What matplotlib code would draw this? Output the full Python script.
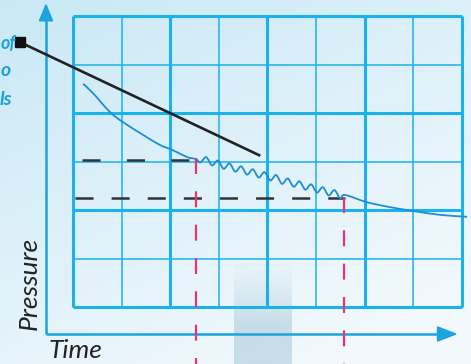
import numpy as np
import matplotlib
matplotlib.use("Agg")
import matplotlib.pyplot as plt
from matplotlib.path import Path
from matplotlib.patches import PathPatch, Polygon

plt.rcParams['lines.scale_dashes'] = False
plt.rcParams['font.family'] = ['Lato', 'DejaVu Sans']

# grid units: one cell of the chart grid = 1 unit (time across, pressure up)
n_cols, n_rows = 8, 6

# black solid line with the square marker
black_x = [-1.09, 3.83]
black_y = [5.46, 3.13]

# blue pressure curve: falling part, wavy part, tail
fall_x = [0.21, 0.41, 0.76, 1.03, 1.44, 1.79, 2.04, 2.35, 2.53]
fall_y = [4.60, 4.41, 4.02, 3.81, 3.55, 3.34, 3.24, 3.09, 3.05]
wave_x = [2.62, 2.74, 2.86, 2.98, 3.10, 3.22, 3.34, 3.46, 3.58, 3.70, 3.82, 3.94,
          4.06, 4.18, 4.30, 4.42, 4.54, 4.66, 4.78, 4.90, 5.02, 5.14, 5.26, 5.38, 5.50]
wave_y = [2.98, 3.09, 2.92, 3.02, 2.85, 2.96, 2.79, 2.90, 2.73, 2.84, 2.67, 2.78,
          2.61, 2.72, 2.54, 2.65, 2.48, 2.59, 2.42, 2.53, 2.36, 2.47, 2.30, 2.41, 2.24]
tail_x = [5.60, 6.05, 6.52, 7.00, 7.55, 8.11]
tail_y = [2.31, 2.16, 2.06, 1.98, 1.90, 1.86]

# dashed levels and time markers
level1 = (3.04, 0.19, 2.51)   # y, x start, x end
level2 = (2.25, 0.04, 5.60)
mark1 = (2.53, 3.07)          # x, y top
mark2 = (5.58, 2.27)

# shaded band
band_x = (3.31, 4.49)
band_top = 1.0

grid_col = '#1ab2ea'
axis_col = '#1aa3df'
curve_col = '#1d8fd4'
pink = '#e8356f'

px_x = 48.6
px_y = 48.5
x0, x1 = -73 / px_x, (471 - 73) / px_x
y0, y1 = (307 - 364) / px_y, 307 / px_y

fig = plt.figure(figsize=(4.71, 3.64), dpi=100)
ax = fig.add_axes([0, 0, 1, 1])

# background gradient: blue at top-left, near white towards bottom-right
gx, gy = np.meshgrid(np.linspace(0, 1, 200), np.linspace(0, 1, 200))
t = np.clip(0.45 * gx + 0.7 * gy, 0, 1)
c_a = np.array([0.79, 0.91, 0.965])
c_b = np.array([0.95, 0.975, 0.99])
bg = c_a[None, None, :] * (1 - t[..., None]) + c_b[None, None, :] * t[..., None]
ax.imshow(bg, extent=[x0, x1, y0, y1], aspect='auto', zorder=0, origin='upper')

# grey band fading at top
ramp = np.clip(np.linspace(0, 1, 100) * 1.6, 0, 1) ** 1.3
band = np.zeros((100, 2, 4))
band[..., 0], band[..., 1], band[..., 2] = 0.68, 0.80, 0.86
band[..., 3] = 0.6 * ramp[:, None]
ax.imshow(band, extent=[band_x[0], band_x[1], y0, band_top], aspect='auto',
          origin='upper', zorder=1)
ax.set_xlim(x0, x1)
ax.set_ylim(y0, y1)
ax.axis('off')

# grid
for i in range(n_cols + 1):
    ax.plot([i, i], [0, n_rows], color=grid_col, lw=2.2 if i % 2 == 0 else 1.1,
            zorder=2, solid_capstyle='butt')
for j in range(n_rows + 1):
    ax.plot([0, n_cols], [j, j], color=grid_col, lw=2.2 if j % 2 == 0 else 1.1,
            zorder=2, solid_capstyle='butt')

# axes with arrows
ax_o = (-0.556, -0.557)
ax.plot([ax_o[0], ax_o[0]], [ax_o[1], 5.95], color=axis_col, lw=1.8, zorder=3,
        solid_capstyle='butt')
ax.plot([ax_o[0], 7.65], [ax_o[1], ax_o[1]], color=axis_col, lw=1.8, zorder=3,
        solid_capstyle='butt')
ax.add_patch(Polygon([[ax_o[0] - 0.135, 5.90], [ax_o[0] + 0.135, 5.90],
                      [ax_o[0], 6.23]], closed=True, color=axis_col, zorder=3))
ax.add_patch(Polygon([[7.50, ax_o[1] - 0.145], [7.50, ax_o[1] + 0.145],
                      [7.88, ax_o[1]]], closed=True, color=axis_col, zorder=3))


def smooth(xs, ys):
    pts = np.column_stack([xs, ys])
    verts = [pts[0]]
    codes = [Path.MOVETO]
    n = len(pts)
    for i in range(n - 1):
        p_prev = pts[max(i - 1, 0)]
        p_next = pts[min(i + 2, n - 1)]
        c1 = pts[i] + (pts[i + 1] - p_prev) / 6
        c2 = pts[i + 1] - (p_next - pts[i]) / 6
        verts += [c1, c2, pts[i + 1]]
        codes += [Path.CURVE4] * 3
    return Path(verts, codes)


curve = smooth(fall_x + wave_x + tail_x, fall_y + wave_y + tail_y)
ax.add_patch(PathPatch(curve, fill=False, edgecolor=curve_col, lw=1.3, zorder=5))

# dashed levels
ax.plot([level1[1], level1[2]], [level1[0]] * 2, color='#333333', lw=1.8,
        linestyle=(0, (13, 19)), zorder=4)
ax.plot([level2[1], level2[2]], [level2[0]] * 2, color='#333333', lw=1.8,
        linestyle=(0, (13, 13)), zorder=4)

# pink time markers
for mx, my in (mark1, mark2):
    ax.plot([mx, mx], [my, y0], color=pink, lw=1.6, linestyle=(0, (11.5, 12.5)),
            zorder=6)

# black line with square
ax.plot(black_x, black_y, color='#222222', lw=1.9, zorder=6)
ax.plot(black_x[0], black_y[0], marker='s', ms=7, color='#111111', zorder=7)

# labels
ax.text(-0.51, -0.90, 'Time', fontsize=19, style='italic', color='#222222',
        ha='left', va='center', zorder=8)
ax.text(-0.90, 0.49, 'Pressure', fontsize=19, style='italic', color='#222222',
        rotation=90, ha='center', va='center', zorder=8)
txt_col = '#1ca0dc'
ax.text(-1.17, 5.44, 'of', fontsize=13, style='italic', weight='bold',
        color=txt_col, ha='right', va='center', zorder=8)
ax.text(-1.27, 4.87, 'o', fontsize=14, style='italic', weight='bold',
        color=txt_col, ha='right', va='center', zorder=8)
ax.text(-1.25, 4.27, 'ls', fontsize=14, style='italic', weight='bold',
        color=txt_col, ha='right', va='center', zorder=8)

fig.savefig('out.png', dpi=100)
